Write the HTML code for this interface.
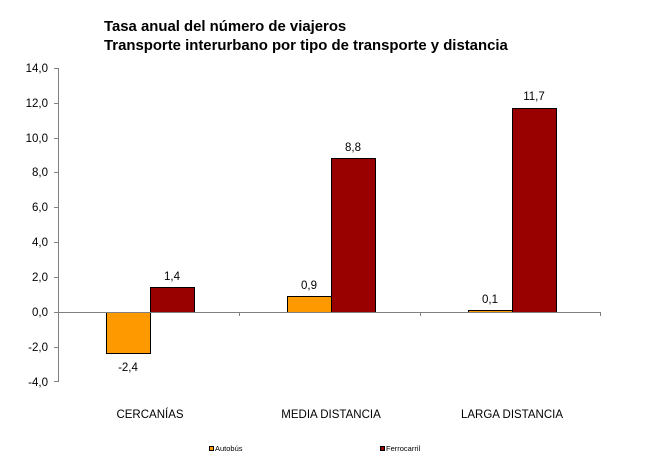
<!DOCTYPE html>
<html><head><meta charset="utf-8"><style>body{margin:0;background:#fff}svg{display:block}</style></head><body>
<svg width="650" height="472" xmlns="http://www.w3.org/2000/svg" font-family="Liberation Sans, Arial, sans-serif">
<rect width="650" height="472" fill="#fff"/>
<text x="104" y="31" font-size="14.9" font-weight="bold">Tasa anual del número de viajeros</text>
<text x="104" y="50" font-size="14.9" font-weight="bold">Transporte interurbano por tipo de transporte y distancia</text>
<g font-size="11.5" text-anchor="end" fill="#000">
<text x="48" y="72">14,0</text><text x="48" y="107">12,0</text><text x="48" y="142">10,0</text>
<text x="48" y="176">8,0</text><text x="48" y="211">6,0</text><text x="48" y="246">4,0</text>
<text x="48" y="281">2,0</text><text x="48" y="316">0,0</text><text x="48" y="351">-2,0</text>
<text x="48" y="386">-4,0</text>
</g>
<g stroke="#808080" stroke-width="1">
<line x1="58.5" y1="68" x2="58.5" y2="382"/>
<line x1="54" y1="68.5" x2="58" y2="68.5"/><line x1="54" y1="103.5" x2="58" y2="103.5"/>
<line x1="54" y1="138.5" x2="58" y2="138.5"/><line x1="54" y1="172.5" x2="58" y2="172.5"/>
<line x1="54" y1="207.5" x2="58" y2="207.5"/><line x1="54" y1="242.5" x2="58" y2="242.5"/>
<line x1="54" y1="277.5" x2="58" y2="277.5"/><line x1="54" y1="312.5" x2="58" y2="312.5"/>
<line x1="54" y1="347.5" x2="58" y2="347.5"/><line x1="54" y1="381.5" x2="58" y2="381.5"/>
</g>
<g stroke="#000" stroke-width="1">
<rect x="106.5" y="312.5" width="44" height="41" fill="#FF9900"/>
<rect x="150.5" y="287.5" width="44" height="25" fill="#990000"/>
<rect x="287.5" y="296.5" width="44" height="16" fill="#FF9900"/>
<rect x="331.5" y="158.5" width="44" height="154" fill="#990000"/>
<rect x="468.5" y="310.5" width="44" height="2" fill="#FF9900"/>
<rect x="512.5" y="108.5" width="44" height="204" fill="#990000"/>
</g>
<g stroke="#808080" stroke-width="1">
<line x1="58" y1="312.5" x2="600" y2="312.5"/>
<line x1="239.5" y1="312" x2="239.5" y2="316"/><line x1="420.5" y1="312" x2="420.5" y2="316"/><line x1="600.5" y1="312" x2="600.5" y2="316"/>
</g>
<g font-size="11.5" text-anchor="middle">
<text x="128" y="371">-2,4</text><text x="172" y="280">1,4</text>
<text x="309" y="289">0,9</text><text x="353" y="151">8,8</text>
<text x="490" y="303">0,1</text><text x="534" y="100">11,7</text>
<text x="150" y="418">CERCANÍAS</text><text x="331" y="418">MEDIA DISTANCIA</text><text x="512" y="418">LARGA DISTANCIA</text>
</g>
<rect x="209.5" y="446.5" width="4" height="4" fill="#FF9900" stroke="#000"/>
<text x="215" y="451" font-size="7.5">Autobús</text>
<rect x="380.5" y="446.5" width="4" height="4" fill="#990000" stroke="#000"/>
<text x="386" y="451" font-size="7.5">Ferrocarril</text>
</svg>
</body></html>
